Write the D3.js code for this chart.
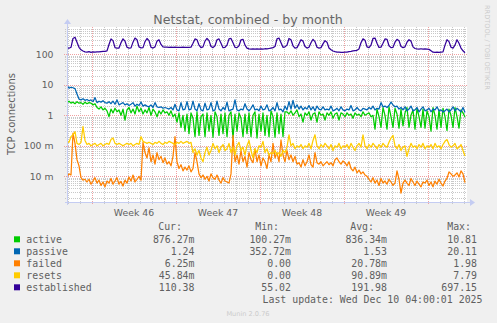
<!DOCTYPE html>
<html>
<head>
<meta charset="utf-8">
<script src="https://cdn.jsdelivr.net/npm/d3@7"></script>
<style>
  html, body { margin: 0; padding: 0; background: #f0f0f0; }
  svg { display: block; }
</style>
</head>
<body>
<svg id="chart" width="497" height="323"></svg>
<script>
// ---- Data: one sample every 4 hours, starting Fri Nov 7 2025 22:00 UTC ----
const startTime = Date.UTC(2025, 10, 7, 22);
const stepHours = 4;

const active = [
  2.6, 2.9, 2.5, 2.7, 2.4, 2.8, 2.5, 2.6, 2.3, 2.7,
  2.4, 2.6, 2.5, 2.2, 2.4, 1.8, 1.6, 1.9, 1.5, 1.7,
  1.4, 0.9, 1.6, 1.2, 1.7, 1.3, 1.5, 1.0, 1.6, 0.7,
  1.5, 1.8, 1.2, 1.6, 1.1, 2.0, 1.3, 1.7, 1.1, 1.5,
  1.2, 1.8, 1.0, 1.6, 1.3, 0.9, 1.4, 1.1, 1.5, 1.2,
  1.3, 1.0, 1.4, 0.9, 1.1, 0.6, 1.2, 0.4, 1.0, 0.3,
  1.1, 0.25, 1.2, 0.8, 0.2, 1.3, 0.22, 0.9, 1.1, 0.2,
  1.2, 0.3, 1.0, 0.19, 1.3, 0.9, 0.22, 1.1, 0.25, 1.2,
  0.2, 1.0, 1.3, 0.18, 1.1, 0.3, 1.2, 0.8, 0.2, 1.1,
  0.25, 1.2, 0.2, 1.0, 1.3, 0.18, 1.1, 0.3, 1.2, 0.22,
  1.0, 0.2, 1.4, 0.9, 0.19, 1.2, 0.25, 1.1, 0.2, 1.3,
  1.3, 1.1, 1.4, 1.0, 1.2, 1.5, 0.9, 1.1, 0.6, 1.2,
  1.0, 1.3, 0.7, 1.1, 1.2, 0.6, 1.3, 1.0, 1.1, 0.7,
  1.2, 1.0, 1.3, 0.8, 1.1, 1.2, 0.7, 1.2, 1.1, 0.9,
  1.2, 1.0, 1.1, 0.8, 1.2, 1.0, 1.1, 0.9, 1.3, 1.0,
  1.1, 1.2, 0.9, 1.0, 0.35, 1.6, 0.9, 0.4, 1.8, 1.0,
  0.35, 1.9, 0.9, 0.4, 1.7, 1.1, 0.38, 1.6, 0.45, 1.2,
  1.8, 0.4, 1.0, 1.5, 0.35, 1.7, 0.9, 0.4, 1.6, 0.38,
  1.4, 0.9, 0.3, 1.8, 1.0, 0.35, 1.5, 0.4, 1.7, 0.9,
  0.32, 1.6, 1.0, 0.4, 1.8, 0.9, 0.38, 1.5, 1.2, 0.876
];

const passive = [
  9.5, 7.8, 8.3, 8.0, 7.5, 5.0, 3.4, 3.2, 3.5, 3.1,
  3.3, 3.0, 3.2, 2.8, 3.8, 2.6, 2.9, 2.7, 3.0, 2.6,
  2.5, 2.8, 2.4, 2.9, 2.3, 3.2, 2.2, 2.4, 2.6, 2.2,
  2.4, 2.1, 2.3, 2.6, 2.0, 2.3, 2.1, 2.7, 2.0, 2.2,
  2.0, 1.9, 2.2, 1.8, 2.6, 1.9, 1.8, 1.9, 1.7, 1.8,
  1.7, 1.6, 1.8, 1.5, 2.3, 1.5, 1.4, 2.6, 1.5, 1.6,
  2.8, 1.5, 1.6, 2.9, 1.6, 1.4, 2.4, 1.5, 1.4, 2.5,
  1.5, 1.6, 2.6, 1.4, 1.5, 2.9, 1.6, 1.4, 1.8, 1.5,
  2.7, 1.4, 1.5, 1.6, 3.2, 1.5, 1.4, 1.6, 1.5, 2.4,
  1.6, 1.4, 1.7, 2.2, 1.5, 1.6, 1.4, 2.0, 1.5, 1.6,
  2.2, 1.4, 1.5, 1.8, 1.4, 2.6, 1.5, 1.6, 1.3, 2.0,
  1.5, 2.8, 1.6, 3.1, 1.7, 2.2, 1.6, 2.0, 1.5, 1.8,
  1.6, 2.1, 1.5, 1.9, 1.4, 2.0, 1.6, 1.5, 1.9, 1.5,
  1.6, 1.5, 2.0, 1.4, 1.5, 1.7, 1.4, 1.9, 1.5, 1.4,
  1.6, 1.5, 2.1, 1.4, 1.5, 1.8, 1.5, 1.4, 1.7, 1.6,
  1.5, 1.8, 1.6, 2.0, 1.5, 1.7, 1.6, 2.6, 1.9, 2.0,
  1.8, 2.1, 2.7, 2.2, 1.9, 2.0, 1.6, 1.8, 1.5, 1.9,
  1.4, 1.6, 2.0, 1.4, 1.5, 1.8, 1.3, 1.6, 1.9, 1.4,
  1.5, 1.7, 1.3, 1.6, 1.5, 1.9, 1.4, 1.5, 1.3, 1.4,
  1.6, 1.3, 1.5, 1.9, 1.4, 1.7, 1.5, 1.3, 1.8, 1.24
];

const failed = [
  0.0097, 0.012, 0.011, 0.26, 0.12, 0.035, 0.022, 0.009, 0.0075, 0.008,
  0.0065, 0.008, 0.0055, 0.007, 0.009, 0.006, 0.0075, 0.005, 0.0065, 0.0045,
  0.007, 0.006, 0.0085, 0.0055, 0.007, 0.009, 0.0055, 0.0068, 0.0048, 0.0075,
  0.006, 0.0095, 0.007, 0.011, 0.0065, 0.008, 0.01, 0.0075, 0.13, 0.06,
  0.04, 0.085, 0.03, 0.05, 0.025, 0.06, 0.035, 0.045, 0.028, 0.04,
  0.025, 0.03, 0.022, 0.045, 0.2, 0.03, 0.018, 0.024, 0.015, 0.02,
  0.016, 0.022, 0.014, 0.018, 0.06, 0.03, 0.012, 0.009, 0.011, 0.008,
  0.01, 0.007, 0.012, 0.009, 0.008, 0.011, 0.0075, 0.006, 0.009, 0.007,
  0.0065, 0.006, 0.012, 0.22, 0.03, 0.05, 0.025, 0.07, 0.03, 0.045,
  0.02, 0.06, 0.035, 0.028, 0.08, 0.03, 0.05, 0.022, 0.04, 0.03,
  0.018, 0.05, 0.03, 0.12, 0.04, 0.06, 0.03, 0.155, 0.05, 0.03,
  0.07, 0.035, 0.05, 0.03, 0.045, 0.025, 0.028, 0.02, 0.035, 0.022,
  0.03, 0.05, 0.024, 0.02, 0.06, 0.028, 0.025, 0.03, 0.022, 0.026,
  0.03, 0.024, 0.028, 0.022, 0.035, 0.04, 0.03, 0.025, 0.032, 0.028,
  0.022, 0.03, 0.018, 0.015, 0.02, 0.013, 0.016, 0.012, 0.014, 0.011,
  0.01, 0.008, 0.0065, 0.009, 0.006, 0.0075, 0.005, 0.0085, 0.006, 0.007,
  0.0055, 0.008, 0.0065, 0.005, 0.006, 0.015, 0.008, 0.0028, 0.006, 0.0075,
  0.006, 0.005, 0.0085, 0.0065, 0.005, 0.007, 0.0055, 0.0045, 0.0065, 0.006,
  0.0075, 0.005, 0.0065, 0.0045, 0.007, 0.0055, 0.008, 0.006, 0.0048, 0.007,
  0.0085, 0.014, 0.012, 0.01, 0.011, 0.013, 0.0095, 0.015, 0.012, 0.00625
];

const resets = [
  0.14, 0.13, 0.2, 0.23, 0.29, 0.12, 0.11, 0.13, 0.43, 0.15,
  0.11, 0.12, 0.1, 0.11, 0.12, 0.1, 0.11, 0.12, 0.1, 0.11,
  0.12, 0.11, 0.16, 0.18, 0.12, 0.11, 0.12, 0.11, 0.1, 0.11,
  0.12, 0.11, 0.12, 0.1, 0.11, 0.12, 0.11, 0.2, 0.14, 0.13,
  0.12, 0.13, 0.12, 0.11, 0.13, 0.12, 0.14, 0.12, 0.11, 0.13,
  0.12, 0.14, 0.13, 0.12, 0.11, 0.13, 0.12, 0.14, 0.12, 0.13,
  0.14, 0.12, 0.13, 0.06, 0.08, 0.05, 0.07, 0.04, 0.03, 0.06,
  0.09, 0.05, 0.07, 0.12, 0.08, 0.1, 0.06, 0.09, 0.11, 0.07,
  0.08, 0.12, 0.06, 0.09, 0.05, 0.1, 0.13, 0.07, 0.09, 0.05,
  0.1, 0.15, 0.07, 0.04, 0.08, 0.06, 0.1, 0.09, 0.14, 0.06,
  0.08, 0.05, 0.06, 0.055, 0.07, 0.05, 0.06, 0.045, 0.07, 0.06,
  0.09, 0.23, 0.1, 0.12, 0.08, 0.1, 0.09, 0.11, 0.08, 0.1,
  0.09, 0.12, 0.08, 0.15, 0.23, 0.1, 0.08, 0.11, 0.09, 0.12,
  0.1, 0.08, 0.11, 0.07, 0.1, 0.09, 0.12, 0.08, 0.1, 0.09,
  0.11, 0.08, 0.12, 0.09, 0.07, 0.1, 0.12, 0.09, 0.23, 0.1,
  0.08, 0.11, 0.09, 0.12, 0.1, 0.08, 0.11, 0.09, 0.12, 0.1,
  0.09, 0.13, 0.18, 0.22, 0.1, 0.08, 0.11, 0.07, 0.09, 0.1,
  0.045, 0.08, 0.12, 0.09, 0.1, 0.08, 0.11, 0.09, 0.12, 0.08,
  0.1, 0.09, 0.11, 0.08, 0.12, 0.09, 0.1, 0.08, 0.11, 0.14,
  0.16, 0.11, 0.09, 0.1, 0.12, 0.08, 0.09, 0.11, 0.07, 0.046
];

const established = [
  160, 158, 170, 330, 360, 250, 170, 140, 128, 120,
  118, 122, 115, 120, 118, 121, 119, 122, 124, 125,
  130, 210, 320, 280, 165, 158, 160, 240, 320, 270,
  170, 160, 162, 250, 340, 300, 175, 162, 165, 260,
  330, 280, 170, 160, 175, 270, 300, 210, 175, 172,
  172, 170, 171, 170, 172, 170, 168, 170, 171, 169,
  170, 168, 172, 230, 320, 300, 200, 165, 175, 270,
  330, 280, 180, 165, 190, 300, 320, 230, 165, 170,
  200, 320, 330, 240, 170, 165, 190, 300, 310, 200,
  160, 150, 148, 150, 147, 150, 148, 151, 149, 152,
  150, 155, 160, 165, 180, 320, 340, 240, 170, 175,
  200, 330, 300, 190, 160, 165, 220, 300, 270, 180,
  160, 170, 240, 310, 260, 170, 160, 165, 220, 280,
  250, 160, 140, 128, 122, 118, 117, 116, 115, 117,
  118, 122, 125, 130, 133, 135, 150, 240, 320, 290,
  175, 165, 200, 330, 340, 230, 168, 172, 230, 320,
  310, 190, 165, 170, 250, 310, 280, 180, 165, 175,
  250, 300, 270, 175, 155, 150, 148, 152, 147, 150,
  148, 145, 130, 117, 116, 118, 115, 118, 120, 200,
  300, 260, 170, 160, 200, 300, 230, 160, 130, 112
];

const seriesNames  = ["active", "passive", "failed", "resets", "established"];
const seriesColors = ["#00cc00", "#0066b3", "#ff8000", "#ffcc00", "#330099"];
const seriesValues = [active, passive, failed, resets, established];

const curValues = ["876.27m", "1.24", "6.25m", "45.84m", "110.38"];
const minValues = ["100.27m", "352.72m", "0.00", "0.00", "55.02"];
const avgValues = ["836.34m", "1.53", "20.78m", "90.89m", "191.98"];
const maxValues = ["10.81", "20.11", "1.98", "7.79", "697.15"];

const yTickValues = [0.01, 0.1, 1, 10, 100];
const yTickLabels = ["10 m", "100 m", "1", "10", "100"];
const weekLabels  = ["Week 46", "Week 47", "Week 48", "Week 49"];

const titleText = "Netstat, combined - by month";
const yAxisTitle = "TCP connections";
const lastUpdate = "Last update: Wed Dec 10 04:00:01 2025";

// ---- Layout ----
const plot = { left: 67, right: 467, top: 27, bottom: 202 };
const sansFont = "'DejaVu Sans', 'Liberation Sans', sans-serif";
const monoFont = "'DejaVu Sans Mono', 'Liberation Mono', monospace";
const textColor = "#606060";

const svg = d3.select("#chart");
svg.append("rect").attr("width", 497).attr("height", 323).attr("fill", "#f0f0f0");

const dayMs = 864e5;
const x = d3.scaleUtc()
  .domain([new Date(startTime), new Date(startTime + dayMs * 400 / 12)])
  .range([plot.left, plot.right]);
const y = d3.scaleLog()
  .domain([1.436e-3, 785])
  .range([plot.bottom, plot.top]);

svg.append("rect")
  .attr("x", plot.left).attr("y", plot.top)
  .attr("width", plot.right - plot.left).attr("height", plot.bottom - plot.top)
  .attr("fill", "#ffffff");

const crisp = v => Math.round(v) + 0.5;
const grid = svg.append("g");

// minor horizontal grid (2..9 of every decade)
const minorY = [];
for (let e = -3; e <= 2; e++) {
  for (let k = 2; k <= 9; k++) {
    const v = k * Math.pow(10, e);
    if (v > y.domain()[0] && v < y.domain()[1]) minorY.push(v);
  }
}
grid.selectAll("line.minor-y").data(minorY).join("line")
  .attr("x1", plot.left - 2).attr("x2", plot.right)
  .attr("y1", d => crisp(y(d))).attr("y2", d => crisp(y(d)))
  .attr("stroke", "#c8c8c8").attr("stroke-width", 1).attr("stroke-dasharray", "1,1");

// day grid lines
const days = d3.utcDay.range(x.domain()[0], x.domain()[1]);
const mondays = d3.utcMonday.range(x.domain()[0], x.domain()[1]);
const mondaySet = new Set(mondays.map(d => +d));
grid.selectAll("line.day").data(days.filter(d => !mondaySet.has(+d))).join("line")
  .attr("x1", d => crisp(x(d))).attr("x2", d => crisp(x(d)))
  .attr("y1", plot.top).attr("y2", plot.bottom + 3)
  .attr("stroke", "#c8c8c8").attr("stroke-width", 1).attr("stroke-dasharray", "1,1");

// major horizontal grid (decades)
grid.selectAll("line.major-y").data(yTickValues).join("line")
  .attr("x1", plot.left - 3).attr("x2", plot.right + 1)
  .attr("y1", d => crisp(y(d))).attr("y2", d => crisp(y(d)))
  .attr("stroke", "#f0a0a0").attr("stroke-width", 1).attr("stroke-dasharray", "1,1");

// week grid lines
grid.selectAll("line.week").data(mondays).join("line")
  .attr("x1", d => crisp(x(d))).attr("x2", d => crisp(x(d)))
  .attr("y1", plot.top).attr("y2", plot.bottom + 3)
  .attr("stroke", "#f0a0a0").attr("stroke-width", 1).attr("stroke-dasharray", "1,1");

// ---- Series lines ----
const line = d3.line()
  .defined(d => d.v > 0)
  .x(d => x(d.t))
  .y(d => y(d.v));

svg.append("clipPath").attr("id", "plotclip").append("rect")
  .attr("x", plot.left).attr("y", plot.top)
  .attr("width", plot.right - plot.left).attr("height", plot.bottom - plot.top);

const lines = svg.append("g").attr("clip-path", "url(#plotclip)");
seriesValues.forEach((vals, si) => {
  const pts = vals.map((v, i) => ({ t: new Date(startTime + i * stepHours * 36e5), v }));
  lines.append("path")
    .datum(pts)
    .attr("d", line)
    .attr("fill", "none")
    .attr("stroke", seriesColors[si])
    .attr("stroke-width", 1.25)
    .attr("stroke-linejoin", "round");
});

// ---- Axes ----
const axisColor = "#c4ccf2";
svg.append("line")
  .attr("x1", plot.left - 2).attr("x2", plot.right + 3)
  .attr("y1", plot.bottom + 0.5).attr("y2", plot.bottom + 0.5)
  .attr("stroke", axisColor);
svg.append("path")
  .attr("d", `M${plot.right + 3},${plot.bottom - 3}L${plot.right + 8},${plot.bottom + 0.5}L${plot.right + 3},${plot.bottom + 4}Z`)
  .attr("fill", axisColor);
svg.append("line")
  .attr("x1", plot.left + 0.5).attr("x2", plot.left + 0.5)
  .attr("y1", plot.bottom + 3).attr("y2", plot.top - 3)
  .attr("stroke", axisColor);
svg.append("path")
  .attr("d", `M${plot.left - 3},${plot.top - 3}L${plot.left + 0.5},${plot.top - 8}L${plot.left + 4},${plot.top - 3}Z`)
  .attr("fill", axisColor);

// y tick labels
svg.append("g").selectAll("text").data(yTickValues).join("text")
  .attr("x", 53.5).attr("y", d => y(d) + 3.4)
  .attr("text-anchor", "end")
  .attr("font-family", sansFont).attr("font-size", 9.3).attr("fill", textColor)
  .text((d, i) => yTickLabels[i]);

// week labels centred between consecutive Mondays
svg.append("g").selectAll("text").data(weekLabels).join("text")
  .attr("x", (d, i) => (x(mondays[i]) + x(mondays[i + 1])) / 2)
  .attr("y", 216)
  .attr("text-anchor", "middle")
  .attr("font-family", sansFont).attr("font-size", 9.3).attr("fill", textColor)
  .text(d => d);

// title and axis title
svg.append("text")
  .attr("x", 248).attr("y", 23.8)
  .attr("text-anchor", "middle")
  .attr("font-family", sansFont).attr("font-size", 12.6).attr("fill", "#666666")
  .text(titleText);

svg.append("text")
  .attr("transform", "translate(14.5,114) rotate(-90)")
  .attr("text-anchor", "middle")
  .attr("font-family", sansFont).attr("font-size", 10).attr("fill", textColor)
  .text(yAxisTitle);

// side credit
svg.append("text")
  .attr("transform", "translate(484.5,5) rotate(90)")
  .attr("font-family", sansFont).attr("font-size", 6.6).attr("fill", "#cccccc")
  .text("RRDTOOL / TOBI OETIKER");

// ---- Legend ----
const legend = svg.append("g")
  .attr("font-family", monoFont).attr("font-size", 9.9).attr("fill", textColor);

const colRight = [194.5, 291, 387, 477];
const headers = ["Cur:", "Min:", "Avg:", "Max:"];
const headerRight = [182, 279, 374, 471];
headers.forEach((h, i) => {
  legend.append("text").attr("x", headerRight[i]).attr("y", 230.2)
    .attr("text-anchor", "end").text(h);
});

const rowY = i => 242.8 + i * 12;
seriesNames.forEach((name, i) => {
  legend.append("rect")
    .attr("x", 14).attr("y", rowY(i) - 6.5).attr("width", 6).attr("height", 6)
    .attr("fill", seriesColors[i]);
  legend.append("text").attr("x", 26.3).attr("y", rowY(i)).text(name);
  [curValues, minValues, avgValues, maxValues].forEach((col, c) => {
    legend.append("text").attr("x", colRight[c]).attr("y", rowY(i))
      .attr("text-anchor", "end").text(col[i]);
  });
});

legend.append("text").attr("x", 482.5).attr("y", 302.6)
  .attr("text-anchor", "end").text(lastUpdate);

svg.append("text")
  .attr("x", 248).attr("y", 315.5)
  .attr("text-anchor", "middle")
  .attr("font-family", sansFont).attr("font-size", 6.6).attr("fill", "#cccccc")
  .text("Munin 2.0.76");
</script>
</body>
</html>
